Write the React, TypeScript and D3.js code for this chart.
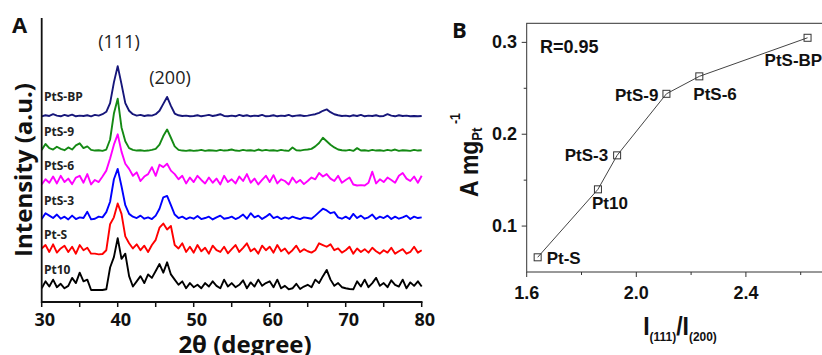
import React from 'react';
import * as d3 from 'd3';

// ---- Panel A: XRD patterns, sampled every 0.5 deg from 30 to 80 ----
const angleStart = 30;
const angleStep = 0.5;

const seriesNames = ['Pt10', 'Pt-S', 'PtS-3', 'PtS-6', 'PtS-9', 'PtS-BP'];
const seriesColors = ['#000000', '#ff0000', '#0000ff', '#ff00ff', '#148a14', '#16167a'];

const pt10 = [
  0.05, 0.25, 0.10, 0.30, 0.08, 0.18, 0.05, 0.12, 0.35, 0.20,
  0.50, 0.25, 0.30, 0.00, 0.00, 0.00, 0.00, 0.02, 0.65, 0.95,
  1.50, 0.90, 1.05, 0.40, 0.10, 0.25, 0.40, 0.20, 0.45, 0.35,
  0.55, 0.75, 0.50, 0.80, 0.45, 0.30, 0.15, 0.25, 0.05, 0.20,
  0.08, 0.15, 0.05, 0.20, 0.10, 0.25, 0.12, 0.05, 0.30, 0.10,
  0.20, 0.08, 0.15, 0.28, 0.05, 0.22, 0.10, 0.30, 0.12, 0.20,
  0.25, 0.08, 0.30, 0.05, 0.12, 0.02, 0.05, 0.18, 0.03, 0.10,
  0.15, 0.08, 0.30, 0.20, 0.40, 0.58, 0.30, 0.12, 0.20, 0.08,
  0.05, 0.03, 0.02, 0.25, 0.10, 0.30, 0.08, 0.20, 0.35, 0.12,
  0.20, 0.08, 0.28, 0.15, 0.10, 0.30, 0.05, 0.22, 0.12, 0.25,
  0.10,
];
const ptS = [
  0.20, 0.30, 0.10, 0.32, 0.08, 0.20, 0.28, 0.10, 0.25, 0.05,
  0.30, 0.15, 0.22, 0.05, 0.05, 0.03, 0.04, 0.15, 0.90, 1.10,
  1.50, 1.20, 0.55, 0.35, 0.20, 0.32, 0.15, 0.28, 0.10, 0.30,
  0.45, 0.80, 0.92, 0.75, 0.85, 0.30, 0.20, 0.35, 0.10, 0.25,
  0.08, 0.30, 0.12, 0.22, 0.05, 0.28, 0.15, 0.10, 0.25, 0.06,
  0.18, 0.30, 0.10, 0.22, 0.35, 0.12, 0.20, 0.05, 0.28, 0.15,
  0.25, 0.08, 0.30, 0.12, 0.20, 0.05, 0.15, 0.28, 0.10, 0.18,
  0.12, 0.08, 0.15, 0.35, 0.30, 0.25, 0.32, 0.15, 0.20, 0.08,
  0.15, 0.25, 0.05, 0.20, 0.10, 0.18, 0.08, 0.22, 0.12, 0.05,
  0.15, 0.08, 0.22, 0.05, 0.12, 0.18, 0.05, 0.10, 0.25, 0.08,
  0.15,
];
const ptS3 = [
  0.05, 0.22, 0.15, 0.08, 0.18, 0.06, 0.12, 0.04, 0.15, 0.05,
  0.10, 0.08, 0.26, 0.04, 0.06, 0.12, 0.10, 0.25, 0.55, 1.20,
  1.50, 1.00, 0.45, 0.20, 0.12, 0.08, 0.15, 0.06, 0.10, 0.05,
  0.15, 0.35, 0.68, 0.72, 0.45, 0.18, 0.08, 0.12, 0.05, 0.10,
  0.06, 0.14, 0.05, 0.08, 0.12, 0.04, 0.10, 0.15, 0.06, 0.08,
  0.12, 0.05, 0.10, 0.18, 0.06, 0.22, 0.10, 0.15, 0.05, 0.12,
  0.20, 0.08, 0.12, 0.05, 0.10, 0.06, 0.12, 0.08, 0.05, 0.10,
  0.08, 0.06, 0.15, 0.25, 0.35, 0.30, 0.22, 0.25, 0.10, 0.06,
  0.12, 0.05, 0.20, 0.08, 0.15, 0.06, 0.10, 0.18, 0.05, 0.12,
  0.08, 0.15, 0.05, 0.12, 0.06, 0.10, 0.15, 0.05, 0.12, 0.08,
  0.10,
];
const ptS6 = [
  0.05, 0.20, 0.10, 0.28, 0.08, 0.30, 0.12, 0.22, 0.06, 0.25,
  0.30, 0.10, 0.35, 0.05, 0.18, 0.12, 0.28, 0.45, 0.80, 1.20,
  1.50, 1.00, 0.65, 0.50, 0.30, 0.40, 0.15, 0.28, 0.35, 0.55,
  0.30, 0.62, 0.55, 0.65, 0.45, 0.35, 0.20, 0.30, 0.08, 0.25,
  0.12, 0.30, 0.18, 0.08, 0.25, 0.10, 0.22, 0.05, 0.30, 0.12,
  0.20, 0.08, 0.28, 0.15, 0.35, 0.10, 0.22, 0.05, 0.18, 0.30,
  0.12, 0.32, 0.08, 0.20, 0.15, 0.05, 0.25, 0.10, 0.18, 0.06,
  0.15, 0.25, 0.20, 0.38, 0.28, 0.35, 0.22, 0.15, 0.30, 0.10,
  0.18, 0.25, 0.05, 0.02, 0.03, 0.02, 0.10, 0.42, 0.08, 0.20,
  0.12, 0.25, 0.18, 0.10, 0.30, 0.38, 0.22, 0.15, 0.28, 0.10,
  0.30,
];
const ptS9 = [
  0.05, 0.22, 0.10, 0.06, 0.14, 0.08, 0.04, 0.12, 0.06, 0.18,
  0.24, 0.10, 0.15, 0.05, 0.03, 0.04, 0.02, 0.06, 0.35, 1.10,
  1.53, 0.70, 0.30, 0.10, 0.05, 0.03, 0.04, 0.02, 0.03, 0.05,
  0.08, 0.20, 0.45, 0.64, 0.40, 0.15, 0.05, 0.03, 0.02, 0.04,
  0.02, 0.03, 0.05, 0.02, 0.04, 0.03, 0.02, 0.05, 0.03, 0.04,
  0.06, 0.03, 0.02, 0.05, 0.03, 0.04, 0.02, 0.06, 0.03, 0.05,
  0.03, 0.04, 0.02, 0.05, 0.03, 0.02, 0.12, 0.04, 0.03, 0.05,
  0.06, 0.08, 0.15, 0.25, 0.40, 0.30, 0.20, 0.12, 0.06, 0.04,
  0.03, 0.05, 0.02, 0.10, 0.03, 0.04, 0.02, 0.05, 0.03, 0.04,
  0.02, 0.05, 0.03, 0.06, 0.02, 0.04, 0.03, 0.02, 0.05, 0.03,
  0.04,
];
const ptSBP = [
  0.02, 0.05, 0.03, 0.08, 0.04, 0.02, 0.06, 0.03, 0.07, 0.02,
  0.04, 0.03, 0.05, 0.02, 0.06, 0.04, 0.08, 0.15, 0.40, 1.00,
  1.47, 0.95, 0.40, 0.18, 0.08, 0.04, 0.06, 0.03, 0.05, 0.04,
  0.08, 0.18, 0.38, 0.58, 0.32, 0.10, 0.05, 0.03, 0.04, 0.02,
  0.03, 0.05, 0.02, 0.04, 0.06, 0.03, 0.05, 0.08, 0.03, 0.02,
  0.04, 0.02, 0.06, 0.03, 0.05, 0.02, 0.04, 0.03, 0.06, 0.02,
  0.03, 0.05, 0.02, 0.04, 0.03, 0.06, 0.02, 0.04, 0.05, 0.03,
  0.04, 0.06, 0.08, 0.12, 0.18, 0.22, 0.14, 0.08, 0.05, 0.03,
  0.04, 0.02, 0.05, 0.03, 0.06, 0.02, 0.04, 0.03, 0.05, 0.02,
  0.03, 0.08, 0.04, 0.02, 0.05, 0.03, 0.04, 0.02, 0.03, 0.02,
  0.03,
];
const seriesValues = [pt10, ptS, ptS3, ptS6, ptS9, ptSBP];

const xTicksA = [30, 35, 40, 45, 50, 55, 60, 65, 70, 75, 80];
const xLabelsA = [30, 40, 50, 60, 70, 80];

// ---- Panel B: activity vs I(111)/I(200) ----
const sampleNames = ['Pt-S', 'Pt10', 'PtS-3', 'PtS-9', 'PtS-6', 'PtS-BP'];
const intensityRatio = [1.64, 1.86, 1.93, 2.11, 2.23, 2.625];
const massActivity = [0.066, 0.14, 0.177, 0.244, 0.263, 0.305];

const xMajorB = [1.6, 2.0, 2.4, 2.8];
const xLabelsB = [1.6, 2.0, 2.4];
const xMinorB = [1.8, 2.2, 2.6];
const yMajorB = [0.1, 0.2, 0.3];
const yMinorB = [0.15, 0.25];

const fontA = "'Open Sans', 'DejaVu Sans', sans-serif";
const fontB = "'Liberation Sans', Arial, sans-serif";

const labelPlacement: Record<string, [number, number, 'start' | 'end']> = {
  'Pt-S': [9, 7, 'start'],
  'Pt10': [-6, 20, 'start'],
  'PtS-3': [-9, 6, 'end'],
  'PtS-9': [-8, 7, 'end'],
  'PtS-6': [-6, 24, 'start'],
  'PtS-BP': [-43, 28, 'start'],
};

export default function App() {
  const xA = d3.scaleLinear().domain([30, 80]).range([41.7, 421.7]);
  const yA = d3.scaleLinear().domain([0, 5]).range([290, 117]);

  const lineFor = (offset: number) =>
    d3.line<number>()
      .x((_, i) => xA(angleStart + i * angleStep))
      .y(d => yA(d + offset));

  const xB = d3.scaleLinear().domain([1.6, 2.8]).range([526.7, 855.5]);
  const yB = d3.scaleLinear().domain([0.05, 0.32]).range([272, 24]);
  const pts = intensityRatio.map((r, i) => [xB(r), yB(massActivity[i])] as [number, number]);
  const lineB = d3.line<[number, number]>().x(d => d[0]).y(d => d[1]);

  return (
    <svg width={822} height={355} style={{ display: 'block', position: 'absolute', left: 0, top: 0 }}>
      <rect width={822} height={355} fill="#fff" />

      {/* ---------- Panel A ---------- */}
      <text x={12} y={33} fontFamily={fontA} fontWeight="bold" fontSize={22} fill="#111">A</text>

      {seriesValues.map((vals, k) => (
        <path key={seriesNames[k]} d={lineFor(k)(vals) || ''} fill="none"
          stroke={seriesColors[k]} strokeWidth={1.9} strokeLinejoin="round" />
      ))}
      {seriesNames.map((name, k) => (
        <text key={name} x={44} y={yA(k) - 16} fontFamily={fontA} fontWeight="bold"
          fontSize={12} fill="#222">{name}</text>
      ))}

      <line x1={41.7} x2={41.7} y1={18} y2={303} stroke="#111" strokeWidth={1.8} />
      <line x1={41} x2={422.5} y1={302} y2={302} stroke="#111" strokeWidth={1.8} />
      {xTicksA.map(t => (
        <line key={t} x1={xA(t)} x2={xA(t)} y1={302} y2={307} stroke="#111" strokeWidth={1.5} />
      ))}
      {xLabelsA.map(t => (
        <text key={t} x={xA(t) + 3} y={326} textAnchor="middle" fontFamily={fontA}
          fontWeight="bold" fontSize={18} fill="#111">{t}</text>
      ))}
      <text x={245} y={353} textAnchor="middle" fontFamily={fontA} fontWeight="bold"
        fontSize={24} fill="#111">2θ (degree)</text>
      <text transform="translate(32,170) rotate(-90)" textAnchor="middle" fontFamily={fontA}
        fontWeight="bold" fontSize={24} fill="#111">Intensity (a.u.)</text>

      <text x={119} y={48} textAnchor="middle" fontFamily={fontA} fontSize={18} fill="#222">(111)</text>
      <text x={170} y={84} textAnchor="middle" fontFamily={fontA} fontSize={18} fill="#222">(200)</text>

      {/* ---------- Panel B ---------- */}
      <text x={452} y={38} fontFamily={fontA} fontWeight="bold" fontSize={22} fill="#111">B</text>

      <rect x={526.7} y={23.3} width={855.5 - 526.7} height={272 - 23.3} fill="none"
        stroke="#333" strokeWidth={1} />
      {xMajorB.map(t => (
        <line key={t} x1={xB(t)} x2={xB(t)} y1={272} y2={277} stroke="#333" />
      ))}
      {xMinorB.map(t => (
        <line key={t} x1={xB(t)} x2={xB(t)} y1={272} y2={275} stroke="#333" />
      ))}
      {yMajorB.map(t => (
        <line key={t} x1={521.7} x2={526.7} y1={yB(t)} y2={yB(t)} stroke="#333" />
      ))}
      {yMinorB.map(t => (
        <line key={t} x1={523.7} x2={526.7} y1={yB(t)} y2={yB(t)} stroke="#333" />
      ))}
      {xLabelsB.map(t => (
        <text key={t} x={xB(t)} y={299} textAnchor="middle" fontFamily={fontB} fontWeight="bold"
          fontSize={18} fill="#111">{t.toFixed(1)}</text>
      ))}
      {yMajorB.map(t => (
        <text key={t} x={517} y={yB(t) + 6} textAnchor="end" fontFamily={fontB} fontWeight="bold"
          fontSize={18} fill="#111">{t.toFixed(1)}</text>
      ))}

      <path d={lineB(pts) || ''} fill="none" stroke="#444" strokeWidth={1} />
      {pts.map((p, i) => (
        <rect key={sampleNames[i]} x={p[0] - 3.5} y={p[1] - 3.5} width={7} height={7}
          fill="none" stroke="#333" strokeWidth={1} />
      ))}
      {pts.map((p, i) => {
        const [dx, dy, anchor] = labelPlacement[sampleNames[i]];
        return (
          <text key={sampleNames[i]} x={p[0] + dx} y={p[1] + dy} textAnchor={anchor}
            fontFamily={fontB} fontWeight="bold" fontSize={17} fill="#111">{sampleNames[i]}</text>
        );
      })}
      <text x={540} y={53} fontFamily={fontB} fontWeight="bold" fontSize={18} fill="#111">R=0.95</text>

      <text transform="translate(478,197) rotate(-90) scale(0.88,1)" fontFamily={fontB} fontWeight="bold"
        fontSize={26} fill="#111">
        A mg<tspan fontSize={15} dy={4}>Pt</tspan><tspan fontSize={14} dy={-22} dx={4}>-1</tspan>
      </text>
      <text transform="translate(680,335) scale(0.92,1)" textAnchor="middle" fontFamily={fontB}
        fontWeight="bold" fontSize={25} fill="#111">
        I<tspan fontSize={13} dy={6}>(111)</tspan><tspan dy={-6}>/I</tspan><tspan fontSize={13} dy={6}>(200)</tspan>
      </text>
    </svg>
  );
}
